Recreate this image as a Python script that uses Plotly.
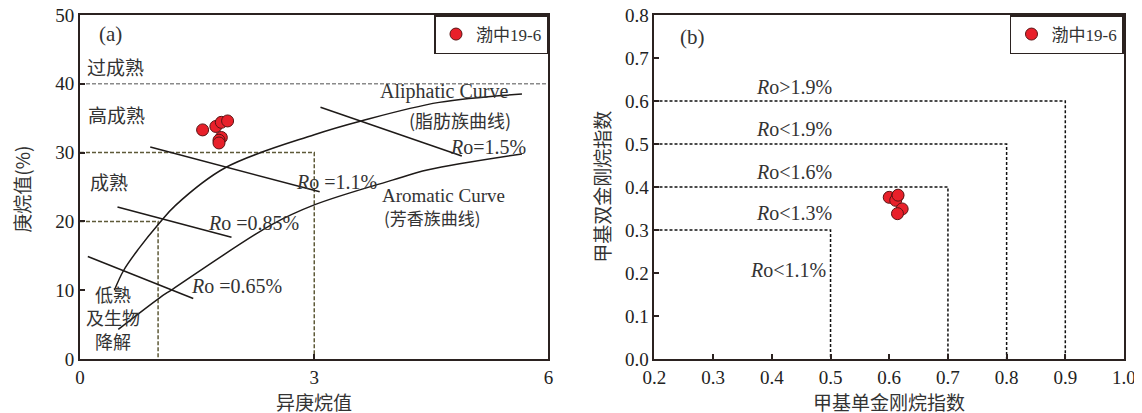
import plotly.graph_objects as go

# ---------------- data: panel (a) ----------------
iso_heptane = [1.57, 1.74, 1.81, 1.89, 1.81, 1.78, 1.78]
heptane = [33.3, 33.8, 34.4, 34.6, 32.2, 31.8, 31.4]

aliph_x = [0.44, 0.56, 0.75, 1.02, 1.22, 1.86, 3.0, 3.6, 4.6, 5.66]
aliph_y = [10.0, 12.9, 16.0, 19.8, 22.3, 27.8, 32.6, 34.6, 37.3, 38.5]
arom_x = [0.49, 1.02, 1.18, 2.45, 3.0, 4.0, 4.46, 5.66]
arom_y = [4.3, 8.9, 10.1, 19.5, 22.4, 26.0, 27.5, 29.8]

ro065_x = [0.10, 1.45]
ro065_y = [14.9, 8.8]
ro085_x = [0.48, 1.94]
ro085_y = [22.1, 17.7]
ro11_x = [0.90, 3.07]
ro11_y = [30.8, 24.3]
ro15_x = [3.08, 4.89]
ro15_y = [36.6, 29.5]

over_mature_y = 40
box_mature_x = [0, 3, 3]
box_mature_y = [30, 30, 0]
box_low_x = [0, 1.0, 1.0]
box_low_y = [20, 20, 0]

# ---------------- data: panel (b) ----------------
mai = [0.600, 0.614, 0.611, 0.622, 0.614, 0.615]
mdi = [0.376, 0.379, 0.369, 0.349, 0.338, 0.381]

b_limits_x = [0.5, 0.7, 0.8, 0.9]
b_limits_y = [0.3, 0.4, 0.5, 0.6]

series_name = "渤中19-6"

LAT = "Liberation Serif, Noto Sans CJK SC, serif"
CJK = "Noto Sans CJK SC, sans-serif"
AX = "#2b2220"
TXT = "#333333"
RED = "#e8202a"
OLIVE = "#5e5a38"

fig = go.Figure()

def line(x, y, xa="x", ya="y", color="#222222", width=1.5, dash=None, shape="linear"):
    fig.add_trace(go.Scatter(x=x, y=y, mode="lines", xaxis=xa, yaxis=ya,
                             line=dict(color=color, width=width, dash=dash, shape=shape),
                             showlegend=False, hoverinfo="skip"))

# panel (a) lines
line([0, 6], [over_mature_y, over_mature_y], color="#8a8a8a", width=1.5, dash="4px,2px")
line(box_mature_x, box_mature_y, color=OLIVE, width=1.5, dash="4px,2px")
line(box_low_x, box_low_y, color=OLIVE, width=1.5, dash="4px,2px")
line(aliph_x, aliph_y, color="#1e1a18", width=1.5, shape="spline")
line(arom_x, arom_y, color="#1e1a18", width=1.5, shape="spline")
for xs, ys in [(ro065_x, ro065_y), (ro085_x, ro085_y), (ro11_x, ro11_y), (ro15_x, ro15_y)]:
    line(xs, ys, color="#1e1a18", width=1.5)

# panel (b) boxes
for bx, by in zip(b_limits_x, b_limits_y):
    line([0.2, bx, bx], [by, by, 0], xa="x2", ya="y2", color="#111111", width=1.5, dash="3px,2px")

marker = dict(color=RED, size=12, line=dict(color="#5a1414", width=1))
fig.add_trace(go.Scatter(x=iso_heptane, y=heptane, mode="markers", name=series_name,
                         marker=marker, xaxis="x", yaxis="y", legend="legend"))
fig.add_trace(go.Scatter(x=mai, y=mdi, mode="markers", name=series_name,
                         marker=marker, xaxis="x2", yaxis="y2", legend="legend2"))

axis_common = dict(showline=True, mirror=True, linewidth=2, linecolor=AX,
                   ticks="inside", ticklen=5, tickwidth=1.5, tickcolor=AX,
                   showgrid=False, zeroline=False, automargin=False,
                   ticklabeloverflow="allow",
                   tickfont=dict(family=LAT, size=19, color="#222222"))

# page has an 8px body margin; geometry below is set in figure pixels
fig.update_layout(
    width=1142, height=413,
    margin=dict(l=0, r=0, t=7, b=61.7),
    paper_bgcolor="white", plot_bgcolor="white",
    xaxis=dict(domain=[0.06305, 0.47329], range=[0, 6], tickvals=[0, 3, 6], **axis_common),
    yaxis=dict(range=[0, 50], dtick=10, **axis_common),
    xaxis2=dict(domain=[0.56611, 0.97723], range=[0.2, 1.0], dtick=0.1, tickformat=".1f",
                anchor="y2", **axis_common),
    yaxis2=dict(range=[0, 0.8], dtick=0.1, tickformat=".1f", anchor="x2", **axis_common),
    legend=dict(x=0.47329, xanchor="right", y=1, yanchor="top",
                bgcolor="white", bordercolor=AX, borderwidth=1.5,
                font=dict(family=LAT, size=17, color=TXT)),
    legend2=dict(x=0.97723, xanchor="right", y=1, yanchor="top",
                 bgcolor="white", bordercolor=AX, borderwidth=1.5,
                 font=dict(family=LAT, size=17, color=TXT)),
)

# axis titles
titles = [
    ("庚烷值(%)", 0.01226, 0.4917, -90),
    ("异庚烷值", 0.2680, -0.1231, 0),
    ("甲基双金刚烷指数", 0.5201, 0.5004, -90),
    ("甲基单金刚烷指数", 0.7715, -0.1231, 0),
]
for text, x, y, ang in titles:
    fig.add_annotation(text=text, x=x, y=y, xref="paper", yref="paper", showarrow=False,
                       textangle=ang, xanchor="center", yanchor="middle",
                       font=dict(family=CJK, size=19, color=TXT))

anns = [
    ("(a)", 0.39, 47.3, "x", "y", LAT, 21),
    ("过成熟", 0.455, 42.45, "x", "y", CJK, 19),
    ("高成熟", 0.47, 35.5, "x", "y", CJK, 19),
    ("成熟", 0.37, 25.8, "x", "y", CJK, 19),
    ("低熟<br>及生物<br>降解", 0.42, 6.1, "x", "y", CJK, 18),
    ("Aliphatic Curve", 4.66, 38.86, "x", "y", LAT, 20),
    ("(脂肪族曲线)", 4.87, 34.75, "x", "y", CJK, 18),
    ("<i>R</i>o=1.5%", 5.22, 30.87, "x", "y", LAT, 20),
    ("<i>R</i>o =1.1%", 3.29, 25.8, "x", "y", LAT, 20),
    ("Aromatic Curve", 4.66, 23.75, "x", "y", LAT, 19),
    ("(芳香族曲线)", 4.52, 20.6, "x", "y", CJK, 17),
    ("<i>R</i>o =0.85%", 2.22, 19.84, "x", "y", LAT, 20),
    ("<i>R</i>o =0.65%", 2.0, 10.54, "x", "y", LAT, 20),
    ("(b)", 0.264, 0.75, "x2", "y2", LAT, 21),
    ("<i>R</i>o>1.9%", 0.437, 0.632, "x2", "y2", LAT, 20),
    ("<i>R</i>o<1.9%", 0.437, 0.534, "x2", "y2", LAT, 20),
    ("<i>R</i>o<1.6%", 0.437, 0.436, "x2", "y2", LAT, 20),
    ("<i>R</i>o<1.3%", 0.437, 0.339, "x2", "y2", LAT, 20),
    ("<i>R</i>o<1.1%", 0.428, 0.2075, "x2", "y2", LAT, 20),
]
for text, x, y, xr, yr, fam, size in anns:
    fig.add_annotation(text=text, x=x, y=y, xref=xr, yref=yr, showarrow=False,
                       font=dict(family=fam, size=size, color=TXT))

fig.write_html("out.html")
